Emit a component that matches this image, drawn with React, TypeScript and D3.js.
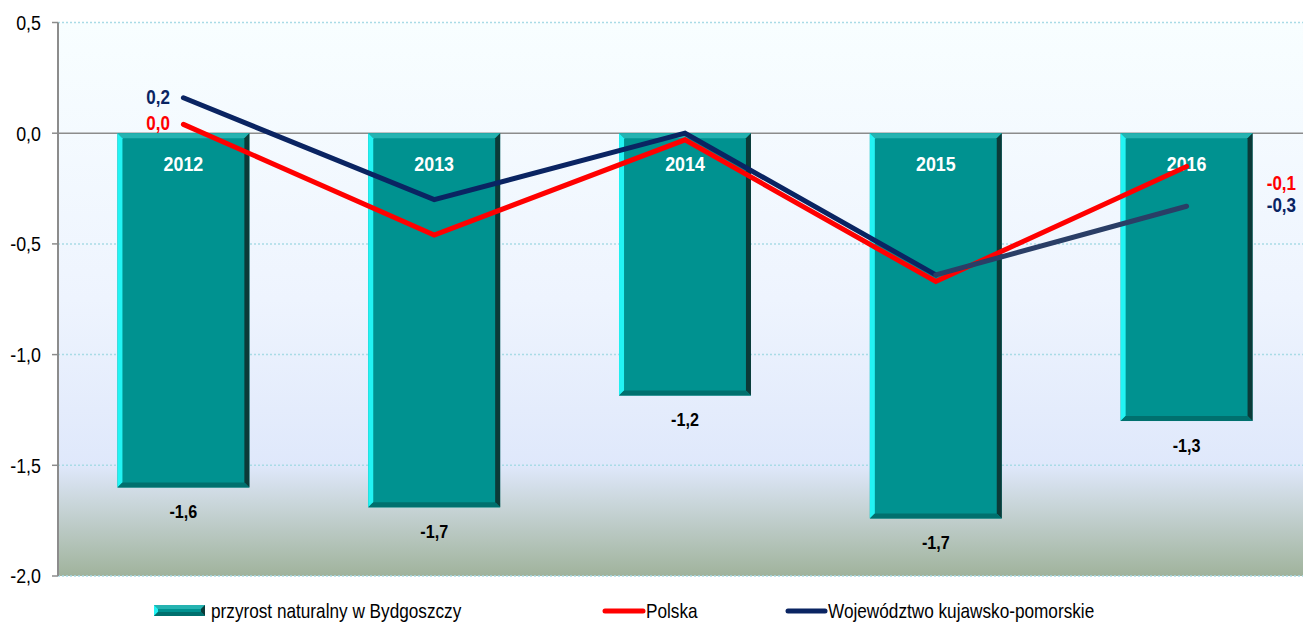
import React from "react";
import * as d3 from "d3";

const years = ["2012", "2013", "2014", "2015", "2016"];
const bydgoszcz = [-1.6, -1.69, -1.185, -1.74, -1.3];
const bydgoszczLabels = ["-1,6", "-1,7", "-1,2", "-1,7", "-1,3"];
const polska = [0.04, -0.46, -0.03, -0.67, -0.15];
const wojewodztwo = [0.16, -0.3, 0.0, -0.64, -0.33];
const yTicks = [0.5, 0, -0.5, -1, -1.5, -2];
const yTickLabels = ["0,5", "0,0", "-0,5", "-1,0", "-1,5", "-2,0"];
const seriesNames = ["przyrost naturalny w Bydgoszczy", "Polska", "Województwo kujawsko-pomorskie"];
const firstLabels = ["0,0", "0,2"];
const lastLabels = ["-0,1", "-0,3"];

const FONT = "'Liberation Sans', Arial, sans-serif";

type TProps = {
  x: number;
  y: number;
  anchor?: "start" | "middle" | "end";
  size: number;
  bold?: boolean;
  fill: string;
  sx?: number;
  children: React.ReactNode;
};

function T({ x, y, anchor = "start", size, bold, fill, sx = 0.85, children }: TProps) {
  return (
    <text
      transform={`translate(${x},${y}) scale(${sx},1)`}
      dy="0.35em"
      textAnchor={anchor}
      fontSize={size}
      fontWeight={bold ? "bold" : "normal"}
      fill={fill}
    >
      {children}
    </text>
  );
}

export default function App() {
  const W = 1303, H = 624;
  const left = 58, right = 1312, top = 22.5, bottom = 576;
  const x = d3.scaleBand().domain(years).range([left, right]).paddingInner(0.474).paddingOuter(0.237);
  const y = d3.scaleLinear().domain([-2, 0.5]).range([bottom, top]);
  const bw = x.bandwidth();
  const cx = (i: number) => (x(years[i]) as number) + bw / 2;
  const line = d3.line<number>().x((_, i) => cx(i)).y((d) => y(d));
  const b = 5;

  const barShape = (x0: number, y0: number, w: number, h: number, k: number, key: string) => (
    <g key={key}>
      <rect x={x0} y={y0} width={w} height={h} fill="#009290" />
      <polygon points={`${x0},${y0} ${x0 + w},${y0} ${x0 + w - k},${y0 + k} ${x0 + k},${y0 + k}`} fill="#25b3b1" />
      <polygon points={`${x0},${y0} ${x0 + k},${y0 + k} ${x0 + k},${y0 + h - k} ${x0},${y0 + h}`} fill="#22f4f4" />
      <polygon points={`${x0 + w},${y0} ${x0 + w},${y0 + h} ${x0 + w - k},${y0 + h - k} ${x0 + w - k},${y0 + k}`} fill="#0b3a38" />
      <polygon points={`${x0},${y0 + h} ${x0 + w},${y0 + h} ${x0 + w - k},${y0 + h - k} ${x0 + k},${y0 + h - k}`} fill="#00706e" />
    </g>
  );

  return (
    <svg width={W} height={H} style={{ position: "absolute", left: 0, top: 0 }} fontFamily={FONT}>
      <defs>
        <linearGradient id="bg" x1="0" y1="0" x2="0" y2="1">
          <stop offset="0" stopColor="#f8feff" />
          <stop offset="0.5" stopColor="#eef4fe" />
          <stop offset="0.8" stopColor="#dfe8fb" />
          <stop offset="1" stopColor="#a0b39c" />
        </linearGradient>
      </defs>
      <rect x={0} y={0} width={W} height={H} fill="#ffffff" />
      <rect x={left} y={top} width={right - left} height={bottom - top} fill="url(#bg)" />
      {yTicks.map((t, i) =>
        t === 0 ? null : (
          <line key={"g" + i} x1={left} x2={right} y1={y(t)} y2={y(t)} stroke="#a9dbe6" strokeWidth={1.5} strokeDasharray="2,2" />
        )
      )}
      <line x1={left} x2={right} y1={y(0)} y2={y(0)} stroke="#8c8c8c" strokeWidth={1.5} />
      <line x1={left} x2={left} y1={top} y2={bottom} stroke="#8c8c8c" strokeWidth={2} />
      {yTicks.map((t, i) => (
        <g key={"t" + i}>
          <line x1={left - 6} x2={left} y1={y(t)} y2={y(t)} stroke="#8c8c8c" strokeWidth={1.5} />
          <T x={41} y={y(t)} anchor="end" size={21} fill="#000">
            {yTickLabels[i]}
          </T>
        </g>
      ))}
      {bydgoszcz.map((v, i) => {
        const x0 = x(years[i]) as number;
        const y0 = y(0);
        return barShape(x0, y0, bw, y(v) - y0, b, "b" + i);
      })}
      {years.map((yr, i) => (
        <T key={"yr" + i} x={cx(i)} y={y(0) + 30} anchor="middle" size={21} bold fill="#fff">
          {yr}
        </T>
      ))}
      {bydgoszcz.map((v, i) => (
        <T key={"bl" + i} x={cx(i)} y={y(v) + 24} anchor="middle" size={19} bold fill="#000">
          {bydgoszczLabels[i]}
        </T>
      ))}
      <path d={line(polska) || ""} fill="none" stroke="#ff0000" strokeWidth={5} strokeLinecap="round" strokeLinejoin="miter" />
      <path d={line(wojewodztwo.slice(0, 4)) || ""} fill="none" stroke="#0a2462" strokeWidth={5} strokeLinecap="round" strokeLinejoin="miter" />
      <line x1={cx(3)} y1={y(wojewodztwo[3])} x2={cx(4)} y2={y(wojewodztwo[4])} stroke="#2a3e66" strokeWidth={5} strokeLinecap="round" />
      <T x={170} y={y(polska[0]) - 1} anchor="end" size={20} bold fill="#ff0000">
        {firstLabels[0]}
      </T>
      <T x={170} y={y(wojewodztwo[0]) - 1} anchor="end" size={20} bold fill="#0a2462">
        {firstLabels[1]}
      </T>
      <T x={1296} y={183} anchor="end" size={20} bold fill="#ff0000">
        {lastLabels[0]}
      </T>
      <T x={1296} y={205} anchor="end" size={20} bold fill="#0a2462">
        {lastLabels[1]}
      </T>
      {/* legend */}
      {barShape(154, 605, 51, 11, 4, "lg")}
      <T x={211} y={611} size={20} sx={0.86} fill="#000">{seriesNames[0]}</T>
      <line x1={605} x2={643} y1={611} y2={611} stroke="#ff0000" strokeWidth={5} strokeLinecap="round" />
      <T x={646} y={611} size={20} sx={0.86} fill="#000">{seriesNames[1]}</T>
      <line x1={788} x2={825} y1={611} y2={611} stroke="#0a2462" strokeWidth={5} strokeLinecap="round" />
      <T x={828} y={611} size={20} sx={0.86} fill="#000">{seriesNames[2]}</T>
    </svg>
  );
}
